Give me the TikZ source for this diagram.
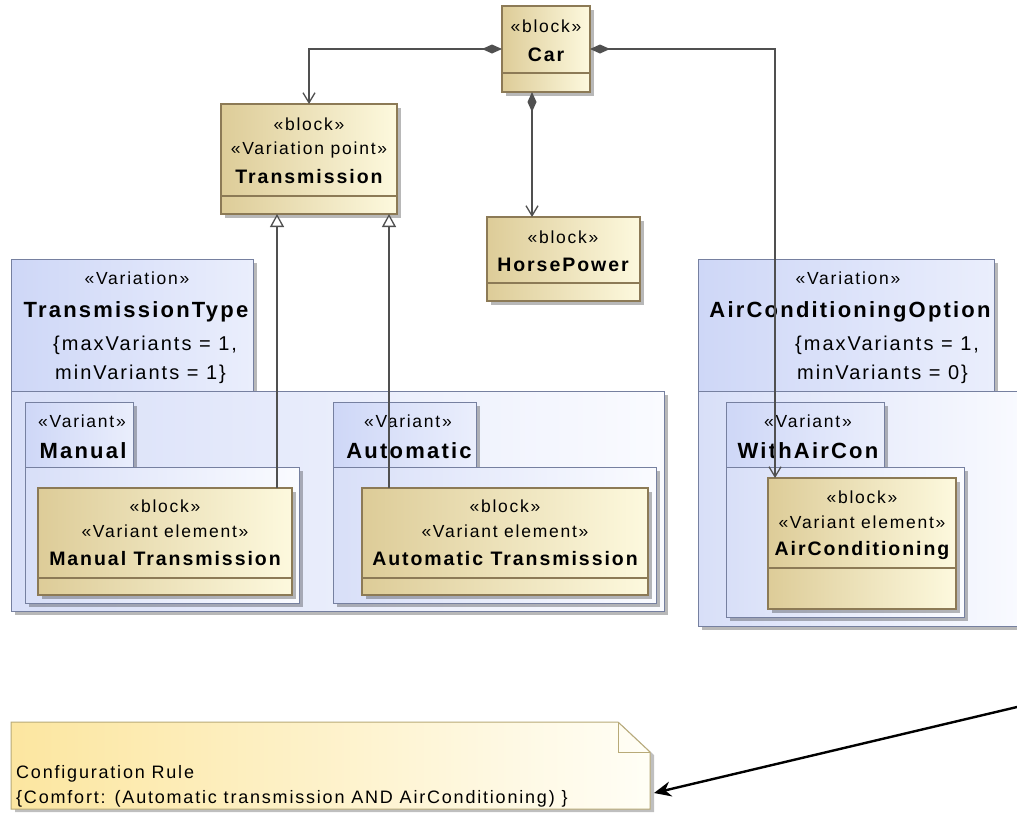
\documentclass[tikz,border=0pt]{standalone}
\usepackage{fontspec}
\newfontfamily\umlf{Liberation Sans}[LetterSpace=10]
\usetikzlibrary{arrows.meta,shadows,calc}

\definecolor{blkA}{RGB}{221,204,152}
\definecolor{blkB}{RGB}{253,249,222}
\definecolor{blkLine}{RGB}{140,122,86}
\definecolor{varA}{RGB}{206,215,247}
\definecolor{varB}{RGB}{234,238,252}
\definecolor{bodA}{RGB}{216,223,248}
\definecolor{bodB}{RGB}{250,251,255}
\definecolor{varLine}{RGB}{118,128,160}
\definecolor{noteA}{RGB}{252,230,160}
\definecolor{noteB}{RGB}{255,254,246}
\definecolor{noteLine}{RGB}{184,170,120}
\definecolor{conn}{RGB}{80,80,80}

% rectangle node given by its top-left and bottom-right corners
\newcommand{\umlbox}[6]{%
  \node[#1, anchor=north west, minimum width={#5-#3}, minimum height={#6-#4}] (#2) at (#3,#4) {};}

\begin{document}
\begin{tikzpicture}[x=1pt,y=-1pt,
  shade box/.style={inner sep=0pt, outer sep=0pt,
    drop shadow={shadow xshift=4pt,shadow yshift=-4pt,fill=black,opacity=0.28}},
  blockbox/.style={shade box, draw=blkLine, line width=1.2pt, left color=blkA, right color=blkB},
  vtab/.style={shade box, draw=varLine, line width=1pt, left color=varA, right color=varB},
  vbody/.style={shade box, draw=varLine, line width=1pt, left color=bodA, right color=bodB},
  divider/.style={draw=blkLine, line width=1.2pt},
  stereo/.style={anchor=base, inner sep=0pt, font={\umlf\fontsize{17.5}{20}\selectfont}},
  bname/.style={anchor=base, inner sep=0pt, font={\umlf\bfseries\fontsize{19.5}{23}\selectfont}},
  vname/.style={anchor=base, inner sep=0pt, font={\umlf\bfseries\fontsize{22}{26}\selectfont}},
  constr/.style={anchor=base west, inner sep=0pt, font={\umlf\fontsize{20}{23}\selectfont}},
  notetext/.style={anchor=base west, inner sep=0pt, font={\umlf\fontsize{18}{21}\selectfont}},
  comp/.style={draw=conn, line width=1.3pt,
    arrows={Diamond[length=20pt,width=9pt,fill=conn]-Straight Barb[length=10pt,width=12pt]}},
  gen/.style={draw=conn, line width=1.3pt,
    arrows={-Triangle[length=13pt,width=14pt,fill=white]}},
  rulearrow/.style={draw=black, line width=2.4pt, arrows={-Stealth[length=17pt,width=15pt]}}
]
\useasboundingbox (0,0) rectangle (1017,812);
\fill[white] (0,0) rectangle (1017,812);

% ---------- variation frames ----------
\umlbox{vtab}{tabTT}{11}{259}{253}{391}
\umlbox{vbody}{bodyTT}{11}{391}{664}{611}
\umlbox{vtab}{tabAC}{698}{259}{994}{391}
\umlbox{vbody}{bodyAC}{698}{391}{1030}{626}

% ---------- variant frames ----------
\umlbox{vtab}{tabMan}{25}{402}{133}{467}
\umlbox{vbody}{bodyMan}{25}{467}{299}{603}
\umlbox{vtab}{tabAuto}{333}{402}{476}{467}
\umlbox{vbody}{bodyAuto}{333}{467}{656}{603}
\umlbox{vtab}{tabWith}{726}{402}{884}{467}
\umlbox{vbody}{bodyWith}{726}{467}{964}{617}

% frame labels
\node[stereo] (lTT1) at (137,284) {«Variation»};
\node[vname]  (lTT2) at (136,317) {TransmissionType};
\node[constr] (lTT3) at (53,350) {\{maxVariants = 1,};
\node[constr] (lTT4) at (55,379) {minVariants = 1\}};

\node[stereo] (lAC1) at (848,284) {«Variation»};
\node[vname]  (lAC2) at (850,317) {AirConditioningOption};
\node[constr] (lAC3) at (795,350) {\{maxVariants = 1,};
\node[constr] (lAC4) at (797,379) {minVariants = 0\}};

\node[stereo] (lMan1) at (82,427) {«Variant»};
\node[vname]  (lMan2) at (83,458) {Manual};
\node[stereo] (lAuto1) at (408,427) {«Variant»};
\node[vname]  (lAuto2) at (409,458) {Automatic};
\node[stereo] (lWith1) at (808,427) {«Variant»};
\node[vname]  (lWith2) at (808,458) {WithAirCon};

% ---------- blocks ----------
\umlbox{blockbox}{car}{502}{6}{590}{92}
\draw[divider] (car.west |- 0,73) -- (car.east |- 0,73);
\node[stereo] (tCar1) at (546,32) {«block»};
\node[bname]  (tCar2) at (546,61) {Car};

\umlbox{blockbox}{trans}{221}{104}{397}{214}
\draw[divider] (trans.west |- 0,196) -- (trans.east |- 0,196);
\node[stereo] (tTr1) at (309,130) {«block»};
\node[stereo] (tTr2) at (309,154) {«Variation point»};
\node[bname]  (tTr3) at (309,183) {Transmission};

\umlbox{blockbox}{hp}{487}{217}{640}{301}
\draw[divider] (hp.west |- 0,283) -- (hp.east |- 0,283);
\node[stereo] (tHp1) at (563,243) {«block»};
\node[bname]  (tHp2) at (563,271) {HorsePower};

\umlbox{blockbox}{mt}{38}{488}{292}{595}
\draw[divider] (mt.west |- 0,578) -- (mt.east |- 0,578);
\node[stereo] (tMt1) at (165,512) {«block»};
\node[stereo] (tMt2) at (165,537) {«Variant element»};
\node[bname]  (tMt3) at (165,565) {Manual Transmission};

\umlbox{blockbox}{at}{362}{488}{648}{595}
\draw[divider] (at.west |- 0,578) -- (at.east |- 0,578);
\node[stereo] (tAt1) at (505,512) {«block»};
\node[stereo] (tAt2) at (505,537) {«Variant element»};
\node[bname]  (tAt3) at (505,565) {Automatic Transmission};

\umlbox{blockbox}{ac}{768}{478}{956}{609}
\draw[divider] (ac.west |- 0,568) -- (ac.east |- 0,568);
\node[stereo] (tAc1) at (862,503) {«block»};
\node[stereo] (tAc2) at (862,528) {«Variant element»};
\node[bname]  (tAc3) at (862,555) {AirConditioning};

% ---------- configuration rule note ----------
\node[inner sep=0pt, outer sep=0pt, anchor=north west, minimum width=639, minimum height=87] (note) at (11,722) {};
\path[draw=noteLine, line width=1pt, left color=noteA, right color=noteB,
      drop shadow={shadow xshift=4pt,shadow yshift=-3pt,fill=black,opacity=0.25}]
  (note.north west) -- ([xshift=-32pt]note.north east) -- ([yshift=-30pt]note.north east)
  -- (note.south east) -- (note.south west) -- cycle;
\draw[noteLine, line width=1pt] ([xshift=-32pt]note.north east) -- ([xshift=-32pt,yshift=-30pt]note.north east)
  -- ([yshift=-30pt]note.north east);
\node[notetext] (nt1) at (16,778) {Configuration Rule};
\node[notetext] (nt2) at (16,803) {\{Comfort: (Automatic transmission AND AirConditioning) \}};

% ---------- connectors ----------
\draw[comp] (car.west) -| (trans.north);
\draw[comp] (car.east) -| ([xshift=7pt]ac.north west);
\draw[comp] ([xshift=-14pt]car.south) -- ([xshift=-14pt]car.south |- hp.north);
\draw[gen] ([xshift=239pt]mt.north west) -- ([xshift=239pt]mt.north west |- trans.south);
\draw[gen] ([xshift=27pt]at.north west) -- ([xshift=27pt]at.north west |- trans.south);

\coordinate (ruleStart) at (1017,707);
\draw[rulearrow] (ruleStart) -- ([xshift=4pt,yshift=-27.5pt]note.east);
\end{tikzpicture}
\end{document}
